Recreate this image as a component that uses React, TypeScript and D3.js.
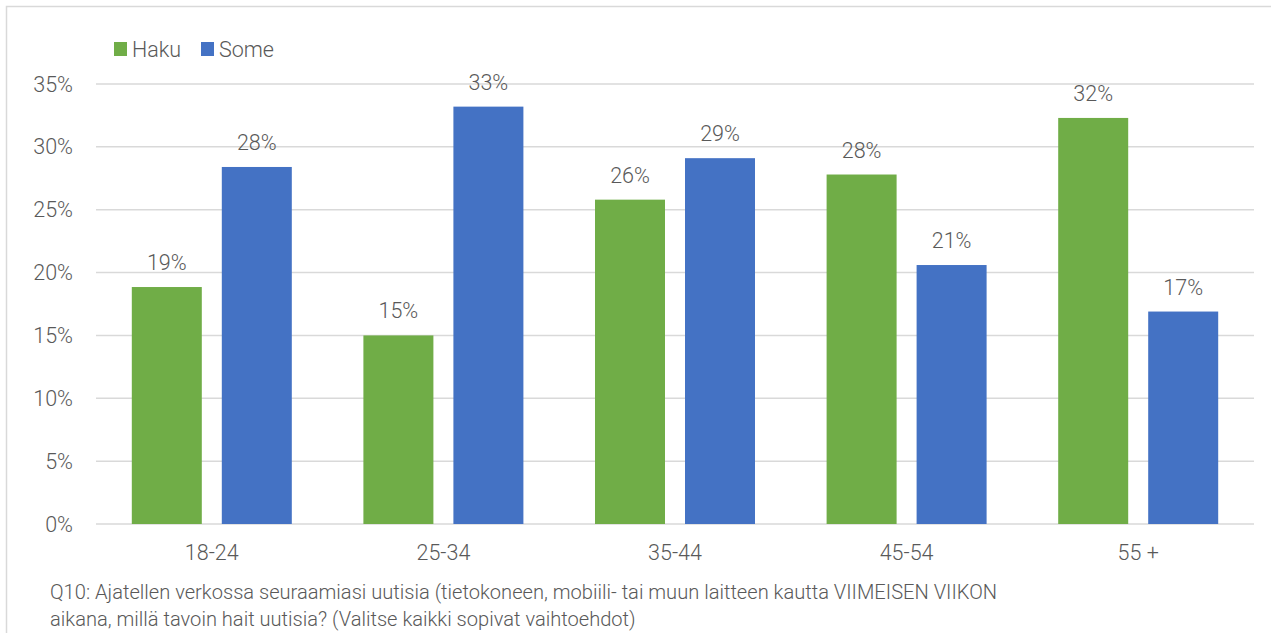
import React from "react";
import * as d3 from "d3";

const categories = ["18-24", "25-34", "35-44", "45-54", "55 +"];
const seriesNames = ["Haku", "Some"];
const hakuValues = [18.85, 15.0, 25.8, 27.8, 32.3];
const someValues = [28.4, 33.2, 29.1, 20.6, 16.9];
const hakuLabels = ["19%", "15%", "26%", "28%", "32%"];
const someLabels = ["28%", "33%", "29%", "21%", "17%"];
const yTicks = [0, 5, 10, 15, 20, 25, 30, 35];
const colors = ["#70AD47", "#4472C4"];
const footnote = [
  "Q10: Ajatellen verkossa seuraamiasi uutisia (tietokoneen, mobiili- tai muun laitteen kautta VIIMEISEN VIIKON",
  "aikana, millä tavoin hait uutisia? (Valitse kaikki sopivat vaihtoehdot)",
];

const W = 1271;
const H = 633;
const FONT = "'Roboto', sans-serif";
const TXT = "#595959";

export default function App() {
  const left = 96, right = 1254, top = 84, bottom = 524;
  const y = d3.scaleLinear().domain([0, 35]).range([bottom, top]);
  const x0 = d3.scaleBand<string>().domain(categories).range([left, right]).paddingInner(0).paddingOuter(0);
  const step = x0.bandwidth();
  const groupW = step * (160 / 231.6);
  const x1 = d3.scaleBand<string>().domain(seriesNames).range([0, groupW]).paddingInner(20 / 90).paddingOuter(0);
  const values = [hakuValues, someValues];
  const labels = [hakuLabels, someLabels];

  return (
    <svg width={W} height={H} style={{ position: "absolute", left: 0, top: 0, background: "#fff" }} fontFamily={FONT} fontWeight={300}>
      <rect x={6.5} y={6.5} width={W} height={H} fill="#fff" stroke="#D9D9D9" strokeWidth={1.5} />
      {yTicks.map((t) => (
        <g key={t}>
          <line x1={left} x2={right} y1={y(t)} y2={y(t)} stroke="#D9D9D9" strokeWidth={1.5} />
          <text x={73} y={y(t) + 7.5} textAnchor="end" fontSize={21.5} fill={TXT}>{t}%</text>
        </g>
      ))}
      {categories.map((c, i) => {
        const gx = (x0(c) as number) + (step - groupW) / 2;
        return (
          <g key={c}>
            {seriesNames.map((s, si) => {
              const bx = gx + (x1(s) as number);
              const v = values[si][i];
              return (
                <g key={s}>
                  <rect x={bx} y={y(v)} width={x1.bandwidth()} height={bottom - y(v)} fill={colors[si]} />
                  <text x={bx + x1.bandwidth() / 2} y={y(v) - 17} textAnchor="middle" fontSize={21.5} fill={TXT}>{labels[si][i]}</text>
                </g>
              );
            })}
            <text x={(x0(c) as number) + step / 2} y={560} textAnchor="middle" fontSize={21.5} fill={TXT}>{c}</text>
          </g>
        );
      })}
      <g>
        <rect x={114} y={42} width={13} height={14} fill={colors[0]} />
        <text x={132} y={57} fontSize={21.5} fill={TXT}>Haku</text>
        <rect x={201} y={42} width={13} height={14} fill={colors[1]} />
        <text x={219} y={57} fontSize={21.5} fill={TXT}>Some</text>
      </g>
      {footnote.map((l, i) => (
        <text key={i} x={50} y={599 + i * 27} fontSize={20.1} fill={TXT}>{l}</text>
      ))}
    </svg>
  );
}
